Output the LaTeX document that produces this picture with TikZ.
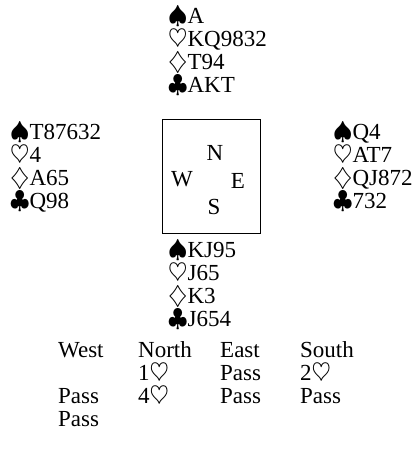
\documentclass[tikz,border=0pt]{standalone}
\usepackage{amsmath,amssymb}
\usepackage{fontspec}
\setmainfont{Liberation Serif}
\usepackage{tikz}
\usetikzlibrary{positioning}
\newcommand{\Sp}{$\spadesuit$}
\newcommand{\Ht}{$\heartsuit$}
\newcommand{\Dm}{$\diamondsuit$}
\newcommand{\Cl}{$\clubsuit$}

\begin{document}
\begin{tikzpicture}[
    x=1pt, y=-1pt,
    every node/.style={font=\fontsize{23}{23}\selectfont, inner sep=0pt},
    hand/.style={anchor=north west, align=left},
    seat/.style={anchor=base},
    bid/.style={anchor=base west}
]
\useasboundingbox (0,0) rectangle (414,471);

% Hands
\node[hand] (nhand) at (168,6) {\Sp A\\\Ht KQ9832\\\Dm T94\\\Cl AKT};
\node[hand] (whand) at (10,122) {\Sp T87632\\\Ht 4\\\Dm A65\\\Cl Q98};
\node[hand] (ehand) at (333,122) {\Sp Q4\\\Ht AT7\\\Dm QJ872\\\Cl 732};
\node[hand] (shand) at (168,240) {\Sp KJ95\\\Ht J65\\\Dm K3\\\Cl J654};

% Compass
\node[draw, line width=0.8pt, minimum width=98, minimum height=114] (table) at (211,176) {};
\node[seat] (nseat) at (215,160) {N};
\node[seat] (wseat) at (182,186) {W};
\node[seat] (eseat) at (238,188) {E};
\node[seat] (sseat) at (214,214) {S};

% Bidding
\node[bid] (bw) at (58,357) {West};
\node[bid] (bn) at (138,357) {North};
\node[bid] (be) at (220,357) {East};
\node[bid] (bs) at (300,357) {South};
\node[bid] (b1n) at (138,380) {1\Ht};
\node[bid] (b1e) at (220,380) {Pass};
\node[bid] (b1s) at (300,380) {2\Ht};
\node[bid] (b2w) at (58,403) {Pass};
\node[bid] (b2n) at (138,403) {4\Ht};
\node[bid] (b2e) at (220,403) {Pass};
\node[bid] (b2s) at (300,403) {Pass};
\node[bid] (b3w) at (58,426) {Pass};
\end{tikzpicture}
\end{document}
